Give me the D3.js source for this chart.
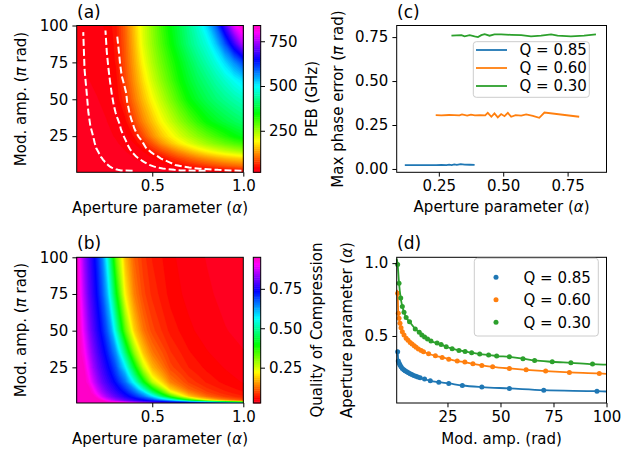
<!DOCTYPE html>
<html>
<head>
<meta charset="utf-8">
<script src="https://cdn.jsdelivr.net/npm/d3@7"></script>
<style>
  body { margin: 0; background: #fff; }
  svg text { font-family: "DejaVu Sans", sans-serif; }
</style>
</head>
<body>
<div id="fig"></div>
<script>
// ---- (a) PEB map, GHz: rows = modulation amplitude, columns = aperture parameter
const pebAlpha = [0.085, 0.15, 0.2, 0.25, 0.3, 0.35, 0.4, 0.45, 0.5, 0.55, 0.6, 0.65, 0.7, 0.75, 0.8, 0.85, 0.9, 0.95, 1.0];
const pebAmp = [0.5, 2, 5, 10, 15, 20, 25, 35, 50, 62.5, 75, 87.5, 100];
const pebGrid = [
  [18, 18, 18, 18, 18, 19, 19, 20, 21, 22, 23, 24, 26, 28, 30, 32, 35, 37, 40],
  [18, 18, 18, 19, 19, 20, 21, 22, 24, 26, 28, 30, 33, 36, 40, 43, 48, 53, 58],
  [18, 19, 19, 20, 21, 22, 24, 26, 29, 33, 38, 43, 55, 66, 77, 87, 96, 104, 110],
  [19, 20, 21, 22, 23, 25, 28, 32, 37, 46, 64, 82, 100, 116, 130, 142, 153, 162, 170],
  [20, 21, 22, 23, 25, 28, 33, 39, 60, 84, 108, 132, 154, 175, 194, 210, 225, 238, 250],
  [21, 22, 23, 25, 27, 31, 38, 62, 92, 128, 158, 184, 208, 230, 250, 268, 284, 298, 310],
  [22, 23, 24, 26, 29, 34, 50, 86, 125, 160, 188, 215, 240, 263, 285, 306, 326, 346, 362],
  [23, 24, 26, 28, 33, 43, 82, 122, 158, 194, 226, 258, 288, 318, 346, 365, 382, 397, 410],
  [25, 26, 28, 31, 38, 68, 112, 154, 194, 232, 270, 308, 346, 372, 395, 415, 432, 448, 462],
  [27, 28, 30, 34, 43, 82, 128, 175, 220, 260, 298, 338, 370, 398, 420, 445, 468, 492, 515],
  [28, 30, 32, 36, 50, 90, 140, 194, 240, 280, 318, 355, 390, 422, 450, 480, 520, 565, 610],
  [30, 32, 34, 38, 52, 95, 150, 210, 255, 298, 340, 380, 418, 450, 480, 530, 600, 680, 760],
  [32, 34, 36, 40, 55, 100, 158, 215, 262, 308, 352, 390, 430, 470, 520, 590, 690, 790, 838]
];

// ---- (b) quality of compression map
const qAlpha = [0.085, 0.1, 0.125, 0.15, 0.175, 0.2, 0.225, 0.25, 0.275, 0.3, 0.35, 0.4, 0.45, 0.5, 0.6, 0.7, 0.8, 0.9, 1.0];
const qAmp = [0.5, 1, 2, 3, 5, 7.5, 10, 15, 20, 25, 35, 50, 75, 100];
const qGrid = [
  [0.95, 0.95, 0.95, 0.95, 0.95, 0.95, 0.95, 0.95, 0.95, 0.95, 0.94, 0.905, 0.868, 0.837, 0.787, 0.745, 0.70, 0.642, 0.54],
  [0.95, 0.95, 0.95, 0.95, 0.95, 0.95, 0.95, 0.95, 0.95, 0.95, 0.915, 0.87, 0.835, 0.805, 0.758, 0.708, 0.645, 0.535, 0.405],
  [0.95, 0.95, 0.95, 0.95, 0.95, 0.95, 0.95, 0.92, 0.895, 0.867, 0.822, 0.786, 0.754, 0.722, 0.638, 0.478, 0.30, 0.188, 0.134],
  [0.95, 0.95, 0.95, 0.95, 0.95, 0.95, 0.92, 0.89, 0.86, 0.835, 0.792, 0.757, 0.722, 0.677, 0.53, 0.335, 0.194, 0.132, 0.10],
  [0.95, 0.95, 0.95, 0.95, 0.95, 0.92, 0.882, 0.848, 0.822, 0.798, 0.757, 0.716, 0.665, 0.59, 0.365, 0.195, 0.127, 0.093, 0.074],
  [0.95, 0.95, 0.95, 0.95, 0.93, 0.892, 0.853, 0.825, 0.798, 0.776, 0.732, 0.68, 0.61, 0.49, 0.255, 0.15, 0.10, 0.077, 0.063],
  [0.95, 0.95, 0.95, 0.95, 0.915, 0.87, 0.835, 0.805, 0.781, 0.758, 0.708, 0.645, 0.535, 0.405, 0.195, 0.12, 0.087, 0.068, 0.056],
  [0.95, 0.95, 0.95, 0.925, 0.88, 0.84, 0.806, 0.78, 0.754, 0.727, 0.663, 0.555, 0.41, 0.268, 0.14, 0.093, 0.07, 0.056, 0.048],
  [0.95, 0.95, 0.95, 0.91, 0.862, 0.824, 0.791, 0.764, 0.736, 0.703, 0.627, 0.484, 0.328, 0.211, 0.118, 0.081, 0.063, 0.052, 0.044],
  [0.95, 0.95, 0.94, 0.895, 0.845, 0.808, 0.778, 0.748, 0.719, 0.683, 0.578, 0.417, 0.26, 0.175, 0.10, 0.072, 0.057, 0.048, 0.041],
  [0.95, 0.95, 0.92, 0.867, 0.822, 0.786, 0.754, 0.722, 0.683, 0.638, 0.478, 0.30, 0.188, 0.134, 0.085, 0.062, 0.05, 0.043, 0.038],
  [0.95, 0.95, 0.89, 0.835, 0.793, 0.757, 0.722, 0.68, 0.625, 0.534, 0.335, 0.195, 0.133, 0.10, 0.068, 0.052, 0.043, 0.038, 0.035],
  [0.95, 0.925, 0.86, 0.805, 0.766, 0.727, 0.68, 0.62, 0.52, 0.41, 0.22, 0.14, 0.10, 0.08, 0.056, 0.045, 0.039, 0.035, 0.032],
  [0.95, 0.91, 0.84, 0.79, 0.75, 0.705, 0.65, 0.56, 0.445, 0.325, 0.18, 0.118, 0.089, 0.071, 0.052, 0.042, 0.037, 0.033, 0.031]
];

// ---- (c) max phase error vs aperture parameter
const errAlpha85 = [0.118, 0.15, 0.18, 0.21, 0.24, 0.26, 0.28, 0.29, 0.30, 0.31, 0.32, 0.335, 0.35, 0.37, 0.389];
const err85 = [0.022, 0.022, 0.022, 0.022, 0.022, 0.023, 0.022, 0.025, 0.022, 0.026, 0.023, 0.027, 0.025, 0.024, 0.023];
const errAlpha60 = [0.238, 0.26, 0.29, 0.31, 0.33, 0.34, 0.36, 0.375, 0.39, 0.41, 0.43, 0.44, 0.454, 0.466, 0.479, 0.492, 0.505, 0.518, 0.531, 0.548, 0.57, 0.589, 0.615, 0.64, 0.66, 0.795];
const err60 = [0.306, 0.305, 0.307, 0.306, 0.305, 0.310, 0.304, 0.309, 0.305, 0.306, 0.305, 0.319, 0.297, 0.316, 0.293, 0.312, 0.300, 0.319, 0.297, 0.306, 0.303, 0.310, 0.302, 0.291, 0.321, 0.297];
const errAlpha30 = [0.299, 0.318, 0.338, 0.35, 0.37, 0.389, 0.402, 0.415, 0.428, 0.447, 0.466, 0.492, 0.531, 0.57, 0.608, 0.647, 0.686, 0.711, 0.763, 0.814, 0.86];
const err30 = [0.758, 0.760, 0.761, 0.754, 0.761, 0.754, 0.750, 0.761, 0.767, 0.758, 0.765, 0.765, 0.763, 0.761, 0.754, 0.758, 0.765, 0.758, 0.754, 0.758, 0.765];

// ---- (d) aperture parameter vs modulation amplitude (also the dashed lines of (a))
const amp85 = [1.5, 1.8, 2.2, 2.6, 3.1, 3.7, 4.4, 5.0, 5.8, 6.6, 7.4, 8.2, 9.1, 10.1, 11.0, 12.1, 14.2, 16.9, 20.9, 25.6, 32.0, 41.2, 54.2, 70.4, 95.5];
const alpha85 = [0.392, 0.328, 0.312, 0.300, 0.289, 0.277, 0.268, 0.261, 0.254, 0.247, 0.240, 0.236, 0.229, 0.224, 0.218, 0.213, 0.204, 0.192, 0.183, 0.174, 0.160, 0.149, 0.140, 0.128, 0.121];
const amp60 = [1.5, 1.8, 2.15, 2.6, 3.1, 3.7, 4.5, 5.5, 6.4, 7.4, 8.3, 9.3, 10.2, 11.3, 12.6, 13.7, 16.1, 19.3, 22.5, 25.6, 29.6, 33.2, 37.0, 41.2, 46.3, 54.2, 62.1, 71.3, 82.5, 96.6];
const alpha60 = [0.793, 0.656, 0.621, 0.587, 0.557, 0.529, 0.507, 0.484, 0.470, 0.456, 0.445, 0.433, 0.422, 0.410, 0.401, 0.392, 0.378, 0.364, 0.353, 0.341, 0.328, 0.321, 0.309, 0.298, 0.288, 0.277, 0.268, 0.259, 0.250, 0.243];
const amp30 = [1.5, 2.15, 2.95, 3.7, 4.5, 5.5, 7.1, 9.8, 11.7, 12.9, 14.2, 15.6, 17.2, 20.1, 22.0, 24.4, 27.2, 30.4, 33.3, 36.4, 40.2, 44.4, 48.2, 54.2, 60.6, 66.1, 74.4, 83.2, 93.4];
const alpha30 = [0.990, 0.862, 0.760, 0.702, 0.663, 0.626, 0.598, 0.548, 0.525, 0.507, 0.493, 0.479, 0.465, 0.451, 0.442, 0.426, 0.413, 0.401, 0.394, 0.385, 0.376, 0.369, 0.362, 0.357, 0.344, 0.332, 0.323, 0.316, 0.307];
// fitted curve ends: [alpha at left edge, alpha at amp = 100]
const fitAmpEnds = [1.05, 100];
const fitEnds85 = [0.403, 0.119];
const fitEnds60 = [0.816, 0.240];
const fitEnds30 = [1.03, 0.303];

const seriesLabels = ["Q = 0.85", "Q = 0.60", "Q = 0.30"];
const seriesColors = ["#1f77b4", "#ff7f0e", "#2ca02c"];

const FS = 15;
const FONT = "DejaVu Sans, sans-serif";

const svg = d3.select("#fig").append("svg")
    .attr("width", 643)
    .attr("height", 450)
    .style("background", "#fff");

// matplotlib gist_rainbow
const rainbow = d3.scaleLinear()
    .domain([0, 0.03, 0.215, 0.4, 0.586, 0.77, 0.954, 1])
    .range(["rgb(255,0,41)", "rgb(255,0,0)", "rgb(255,255,0)", "rgb(0,255,0)", "rgb(0,255,255)", "rgb(0,0,255)", "rgb(255,0,255)", "rgb(255,0,191)"]);

const styleAxis = (g) => {
    g.attr("font-size", FS).attr("font-family", FONT);
    g.select(".domain").remove();
    g.selectAll("line").attr("stroke", "#000").attr("stroke-width", 1);
    g.selectAll("text").attr("fill", "#000");
};

const frame = (x0, y0, x1, y1) => {
    svg.append("rect")
        .attr("x", x0).attr("y", y0)
        .attr("width", x1 - x0).attr("height", y1 - y0)
        .attr("fill", "none")
        .attr("stroke", "#000")
        .attr("stroke-width", 1);
};

const panelLabel = (txt, x, y) => {
    svg.append("text").attr("x", x).attr("y", y)
        .attr("font-size", 17).text(txt);
};

const ylabel = (x, y, parts) => {
    const t = svg.append("text")
        .attr("transform", `translate(${x},${y}) rotate(-90)`)
        .attr("text-anchor", "middle")
        .attr("font-size", FS);
    parts.forEach(p => t.append("tspan").attr("font-style", p[1] ? "italic" : null).text(p[0]));
};

const xlabel = (x, y, parts) => {
    const t = svg.append("text")
        .attr("x", x).attr("y", y)
        .attr("text-anchor", "middle")
        .attr("font-size", FS);
    parts.forEach(p => t.append("tspan").attr("font-style", p[1] ? "italic" : null).text(p[0]));
};

// filled contours (contourf look) from a grid on uneven axes
const drawField = (clipId, box, cols, rows, grid, lo, hi, nLevels, x, y) => {
    svg.append("clipPath").attr("id", clipId)
        .append("rect")
        .attr("x", box[0]).attr("y", box[1])
        .attr("width", box[2] - box[0]).attr("height", box[3] - box[1]);

    const values = grid.flat();
    const levels = d3.range(nLevels + 1).map(i => lo + (hi - lo) * i / nLevels);
    const gx = d3.scaleLinear().domain(cols.map((d, i) => i + 0.5)).range(cols).clamp(true);
    const gy = d3.scaleLinear().domain(rows.map((d, i) => i + 0.5)).range(rows).clamp(true);
    const proj = d3.geoTransform({
        point: function(px, py) { this.stream.point(x(gx(px)), y(gy(py))); }
    });
    const path = d3.geoPath(proj);
    const contours = d3.contours()
        .size([cols.length, rows.length])
        .thresholds(levels.slice(0, -1))(values);

    svg.append("g").attr("clip-path", `url(#${clipId})`)
        .selectAll("path")
        .data(contours)
        .join("path")
        .attr("d", path)
        .attr("fill", (d, i) => rainbow(((levels[i] + levels[i + 1]) / 2 - lo) / (hi - lo)))
        .attr("stroke", (d, i) => rainbow(((levels[i] + levels[i + 1]) / 2 - lo) / (hi - lo)))
        .attr("stroke-width", 0.3);
    return levels;
};

const colorbar = (box, lo, hi, levels, ticks, fmt) => {
    const cy = d3.scaleLinear().domain([lo, hi]).range([box[3], box[1]]);
    const g = svg.append("g");
    for (let i = 0; i < levels.length - 1; i++) {
        g.append("rect")
            .attr("x", box[0])
            .attr("y", cy(levels[i + 1]))
            .attr("width", box[2] - box[0])
            .attr("height", cy(levels[i]) - cy(levels[i + 1]) + 0.5)
            .attr("fill", rainbow(((levels[i] + levels[i + 1]) / 2 - lo) / (hi - lo)));
    }
    const ax = svg.append("g")
        .attr("transform", `translate(${box[2]},0)`)
        .call(d3.axisRight(cy).tickValues(ticks).tickFormat(fmt).tickSize(4.3).tickPadding(4));
    styleAxis(ax);
    frame(box[0], box[1], box[2], box[3]);
};

// ================= panel (a)
const boxA = [76.7, 25.5, 243.3, 172.3];
const xA = d3.scaleLinear().domain([0.085, 1.0]).range([boxA[0], boxA[2]]);
const yA = d3.scaleLinear().domain([0.5, 100]).range([boxA[3], boxA[1]]);
const levA = drawField("clipA", boxA, pebAlpha, pebAmp, pebGrid, 18, 838, 80, xA, yA);

const dashed = d3.line().x(d => xA(d[1])).y(d => yA(d[0]));
const gDash = svg.append("g").attr("clip-path", "url(#clipA)");
[[amp85, alpha85], [amp60, alpha60], [amp30, alpha30]].forEach(s => {
    gDash.append("path")
        .datum(d3.zip(s[0], s[1]))
        .attr("fill", "none")
        .attr("stroke", "#fff")
        .attr("stroke-width", 2)
        .attr("stroke-dasharray", "7,3")
        .attr("d", dashed);
});

styleAxis(svg.append("g").attr("transform", `translate(0,${boxA[3]})`)
    .call(d3.axisBottom(xA).tickValues([0.5, 1.0]).tickFormat(d3.format(".1f")).tickSize(4.3).tickPadding(4)));
styleAxis(svg.append("g").attr("transform", `translate(${boxA[0]},0)`)
    .call(d3.axisLeft(yA).tickValues([25, 50, 75, 100]).tickSize(4.3).tickPadding(4)));
frame(...boxA);
panelLabel("(a)", 77, 18);
xlabel(160, 213, [["Aperture parameter ("], ["α", true], [")"]]);
ylabel(25.5, 99, [["Mod. amp. ("], ["π", true], [" rad)"]]);
colorbar([253.3, 25.5, 260.7, 172.3], 18, 838, levA, [250, 500, 750], d3.format("d"));
ylabel(316.5, 99, [["PEB (GHz)"]]);

// ================= panel (b)
const boxB = [76.7, 257.3, 243.3, 403];
const xB = d3.scaleLinear().domain([0.085, 1.0]).range([boxB[0], boxB[2]]);
const yB = d3.scaleLinear().domain([0.7, 100]).range([boxB[3], boxB[1]]);
const levB = drawField("clipB", boxB, qAlpha, qAmp, qGrid, 0.026, 0.95, 80, xB, yB);

styleAxis(svg.append("g").attr("transform", `translate(0,${boxB[3]})`)
    .call(d3.axisBottom(xB).tickValues([0.5, 1.0]).tickFormat(d3.format(".1f")).tickSize(4.3).tickPadding(4)));
styleAxis(svg.append("g").attr("transform", `translate(${boxB[0]},0)`)
    .call(d3.axisLeft(yB).tickValues([25, 50, 75, 100]).tickSize(4.3).tickPadding(4)));
frame(...boxB);
panelLabel("(b)", 77, 249);
xlabel(160, 444, [["Aperture parameter ("], ["α", true], [")"]]);
ylabel(25.5, 330, [["Mod. amp. ("], ["π", true], [" rad)"]]);
colorbar([253.3, 257.3, 260.7, 403], 0.026, 0.95, levB, [0.25, 0.5, 0.75], d3.format(".2f"));
ylabel(322, 330, [["Quality of Compression"]]);

// ================= panel (c)
const boxC = [396.7, 25.5, 606.5, 172.3];
const xC = d3.scaleLinear().domain([0.0865, 0.901]).range([boxC[0], boxC[2]]);
const yC = d3.scaleLinear().domain([-0.019, 0.816]).range([boxC[3], boxC[1]]);
const errLine = d3.line().x(d => xC(d[0])).y(d => yC(d[1]));
[[errAlpha85, err85], [errAlpha60, err60], [errAlpha30, err30]].forEach((s, i) => {
    svg.append("path")
        .datum(d3.zip(s[0], s[1]))
        .attr("fill", "none")
        .attr("stroke", seriesColors[i])
        .attr("stroke-width", 1.8)
        .attr("d", errLine);
});
styleAxis(svg.append("g").attr("transform", `translate(0,${boxC[3]})`)
    .call(d3.axisBottom(xC).tickValues([0.25, 0.5, 0.75]).tickFormat(d3.format(".2f")).tickSize(4.3).tickPadding(4)));
styleAxis(svg.append("g").attr("transform", `translate(${boxC[0]},0)`)
    .call(d3.axisLeft(yC).tickValues([0, 0.25, 0.5, 0.75]).tickFormat(d3.format(".2f")).tickSize(4.3).tickPadding(4)));
frame(...boxC);
panelLabel("(c)", 397, 18);
xlabel(501.6, 212, [["Aperture parameter ("], ["α", true], [")"]]);
ylabel(343, 99, [["Max phase error ("], ["π", true], [" rad)"]]);

// legend (c)
const legC = svg.append("g");
legC.append("rect").attr("x", 473.3).attr("y", 41.7).attr("width", 116).attr("height", 55.6)
    .attr("rx", 3).attr("fill", "#fff").attr("fill-opacity", 0.8).attr("stroke", "#ccc");
seriesLabels.forEach((lab, i) => {
    const yy = 50 + i * 18;
    legC.append("line").attr("x1", 476).attr("x2", 507).attr("y1", yy).attr("y2", yy)
        .attr("stroke", seriesColors[i]).attr("stroke-width", 1.8);
    legC.append("text").attr("x", 519.5).attr("y", yy).attr("dy", "0.35em")
        .attr("font-size", FS).text(lab);
});

// ================= panel (d)
const boxD = [396.7, 257.3, 606.5, 403];
const xD = d3.scaleLinear().domain([1.05, 100]).range([boxD[0], boxD[2]]);
const yD = d3.scaleLinear().domain([0.04, 1.04]).range([boxD[3], boxD[1]]);
const fitLine = d3.line().x(d => xD(d[0])).y(d => yD(d[1])).curve(d3.curveMonotoneX);
[[amp85, alpha85, fitEnds85], [amp60, alpha60, fitEnds60], [amp30, alpha30, fitEnds30]].forEach((s, i) => {
    const pts = [[fitAmpEnds[0], s[2][0]]].concat(d3.zip(s[0], s[1])).concat([[fitAmpEnds[1], s[2][1]]]);
    svg.append("path")
        .datum(pts)
        .attr("fill", "none")
        .attr("stroke", seriesColors[i])
        .attr("stroke-width", 1.8)
        .attr("d", fitLine);
    svg.append("g").selectAll("circle")
        .data(d3.zip(s[0], s[1]))
        .join("circle")
        .attr("cx", d => xD(d[0]))
        .attr("cy", d => yD(d[1]))
        .attr("r", 2.5)
        .attr("fill", seriesColors[i]);
});
styleAxis(svg.append("g").attr("transform", `translate(0,${boxD[3]})`)
    .call(d3.axisBottom(xD).tickValues([25, 50, 75, 100]).tickSize(4.3).tickPadding(4)));
styleAxis(svg.append("g").attr("transform", `translate(${boxD[0]},0)`)
    .call(d3.axisLeft(yD).tickValues([0.5, 1.0]).tickFormat(d3.format(".1f")).tickSize(4.3).tickPadding(4)));
frame(...boxD);
panelLabel("(d)", 397, 249);
xlabel(501.6, 444, [["Mod. amp. (rad)"]]);
ylabel(352, 330, [["Aperture parameter ("], ["α", true], [")"]]);

// legend (d)
const legD = svg.append("g");
legD.append("rect").attr("x", 474.3).attr("y", 258.3).attr("width", 124).attr("height", 77.7)
    .attr("rx", 3).attr("fill", "#fff").attr("fill-opacity", 0.8).attr("stroke", "#ccc");
seriesLabels.forEach((lab, i) => {
    const yy = 277.3 + i * 22.5;
    legD.append("circle").attr("cx", 496).attr("cy", yy).attr("r", 2.5).attr("fill", seriesColors[i]);
    legD.append("text").attr("x", 523.5).attr("y", yy).attr("dy", "0.35em")
        .attr("font-size", FS).text(lab);
});
</script>
</body>
</html>
